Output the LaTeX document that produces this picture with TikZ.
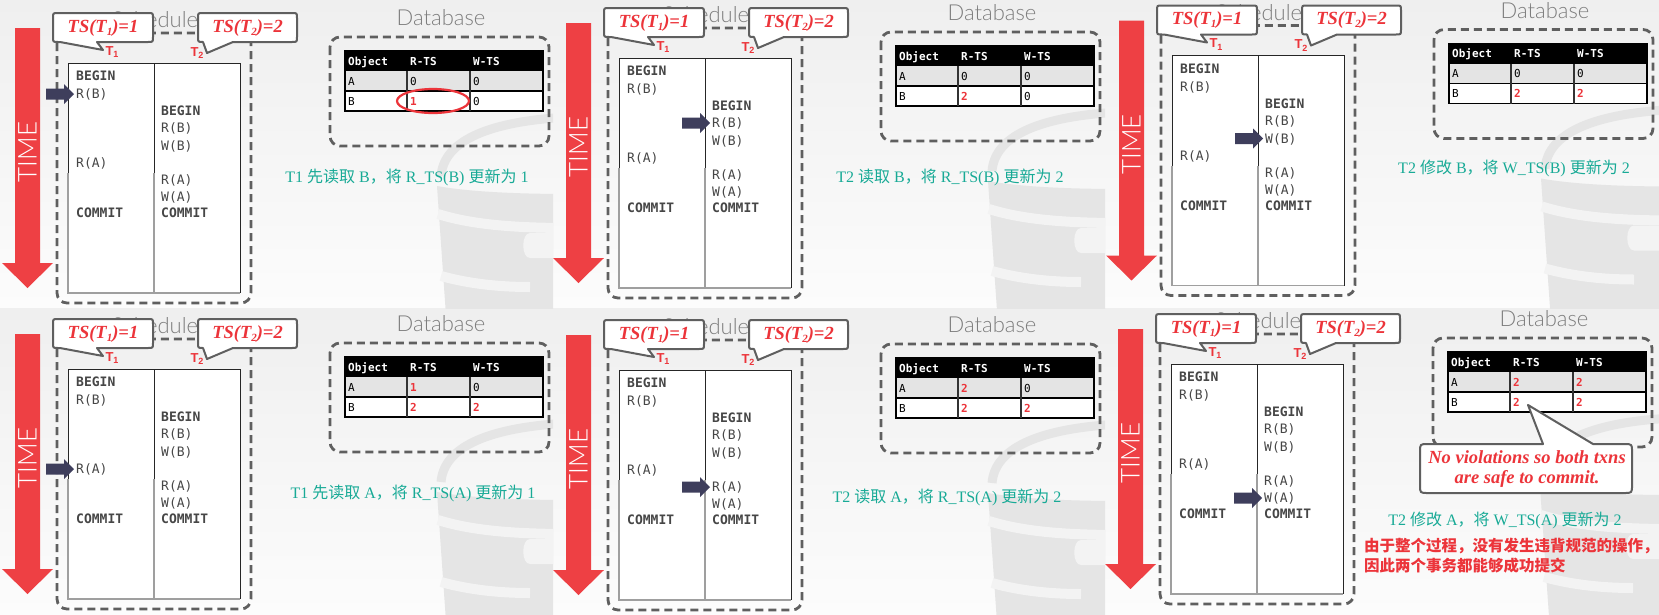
\documentclass[tikz,border=0pt]{standalone}
\usepackage{fontspec}
\setmainfont{Liberation Serif}
\newfontfamily\monof{DejaVu Sans Mono}
\newfontfamily\lser{Liberation Serif}
\newfontfamily\lsans{Liberation Sans}
\newfontfamily\thinf{Lato Light}
\newfontfamily\cjk{Noto Sans CJK SC}
\usetikzlibrary{calc}
\definecolor{tred}{RGB}{238,64,68}
\definecolor{lred}{RGB}{236,52,58}
\definecolor{navyc}{RGB}{62,62,92}
\definecolor{dgray}{RGB}{95,95,95}
\definecolor{ttlc}{RGB}{125,125,125}
\definecolor{codec}{RGB}{70,70,70}
\definecolor{teal2}{RGB}{24,170,150}
\definecolor{wm}{RGB}{229,229,229}
\definecolor{wmlight}{RGB}{243,243,243}
\definecolor{rowa}{RGB}{228,228,228}
\definecolor{bgtop}{RGB}{239,239,239}
\definecolor{bgbot}{RGB}{252,252,252}
\tikzset{
 code/.style={font=\monof\fontsize{13}{13}\selectfont, text=codec, inner sep=0pt, anchor=west, text height=9.5pt, text depth=0pt},
 codeb/.style={code, font=\monof\bfseries\fontsize{13}{13}\selectfont},
 dbt/.style={font=\monof\fontsize{11}{11}\selectfont, inner sep=0pt, anchor=west, text height=8pt, text depth=0pt},
 dbh/.style={dbt, font=\monof\bfseries\fontsize{11}{11}\selectfont, text=white},
 ttl/.style={font=\thinf\fontsize{22}{22}\selectfont, text=ttlc, inner sep=0pt},
 timet/.style={font=\thinf\fontsize{26}{26}\selectfont, text=white, rotate=90, inner sep=0pt},
 tsl/.style={font=\lser\bfseries\itshape\fontsize{18.5}{18.5}\selectfont, text=lred, inner sep=0pt},
 tlab/.style={font=\lsans\bfseries\fontsize{13}{13}\selectfont, text=lred, inner sep=0pt},
 dashbox/.style={draw=dgray, line width=2.8pt, dash pattern=on 8pt off 5pt, rounded corners=10pt},
 cbox/.style={draw=dgray, line width=2pt, fill=white, line join=round},
 capt/.style={font=\fontsize{16}{16}\selectfont, text=teal2, inner sep=0pt},
 redtxt/.style={font=\cjk\bfseries\fontsize{15.5}{20}\selectfont, text=lred, inner sep=0pt, align=left, anchor=west},
 novt/.style={font=\lser\bfseries\itshape\fontsize{18.5}{20}\selectfont, text=lred, inner sep=0pt, align=center},
}
\newcommand\rv[1]{\textcolor{lred}{\bfseries #1}}
\newcommand\mycallout[8]{\draw[cbox] ({#1+5},#2) -- ({#3-5},#2) .. controls (#3,#2) .. (#3,{#2+5}) -- (#3,{#4-5}) .. controls (#3,#4) .. ({#3-5},#4) -- (#6,#4) -- (#7,#8) -- (#5,#4) -- ({#1+5},#4) .. controls (#1,#4) .. (#1,{#4-5}) -- (#1,{#2+5}) .. controls (#1,#2) .. ({#1+5},#2) -- cycle;}
\newcommand\mycalloutT[8]{\draw[cbox] ({#1+8},#2) -- (#5,#2) -- (#7,#8) -- (#6,#2) -- ({#3-8},#2) .. controls (#3,#2) .. (#3,{#2+8}) -- (#3,{#4-8}) .. controls (#3,#4) .. ({#3-8},#4) -- ({#1+8},#4) .. controls (#1,#4) .. (#1,{#4-8}) -- (#1,{#2+8}) .. controls (#1,#2) .. ({#1+8},#2) -- cycle;}
\newcommand\navarrow[1]{\fill[navyc] ($(#1.west)+(-2,0)$) -- ++(-10,-10) -- ++(0,4.5) -- ++(-18,0) -- ++(0,11) -- ++(18,0) -- ++(0,4.5) -- cycle;}
\newcommand\panelbase[9]{%
\begin{scope}
 \clip (#8) rectangle (#9);
 \begin{scope}[shift={(#1,#2)}]
  \fill[wm] (437,186) .. controls (470,192) and (520,194) .. (570,194) -- (570,330) -- (447,330) -- cycle;
  \draw[wmlight, line width=10pt] (438,214) .. controls (470,224) and (510,228) .. (570,228);
  \fill[wmlight] (530,233) .. controls (521,233) and (521,258) .. (530,258) -- (570,258) -- (570,233) -- cycle;
  \draw[wmlight, line width=10pt] (441,276) .. controls (470,284) and (500,287) .. (530,287);
  \draw[wm, line width=9pt] (441,176) .. controls (444,140) and (490,121) .. (570,117);
 \end{scope}
\end{scope}
\begin{scope}[shift={(#1,#2)}]
  \fill[tred] (15,28) -- (40,28) -- (40,263) -- (53,263) -- (27.5,288) -- (2,263) -- (15,263) -- cycle;
  \node[timet] (#3time) at (27.5,152) {TIME};
  \node[ttl] (#3sch) at (155,20) {Schedule};
  \node[ttl] (#3db) at (441,18) {Database};
  \draw[dashbox] (57,33) rectangle (251,303);
  \fill[white] (68,63) rectangle (240,293);
  \draw[black!85, line width=1pt] (68,173) -- (68,63) -- (240,63) -- (240,293);
  \draw[black!85, line width=1pt] (154,63) -- (154,173);
  \draw[gray!75, line width=1.5pt] (68,173) -- (68,293) -- (240,293);
  \draw[gray!75, line width=1.5pt] (154,173) -- (154,293);
  \mycallout{53}{13}{153}{42}{60}{97}{103}{50}
  \mycallout{198}{13}{297}{42}{203}{233}{207}{53}
  \node[tsl] (#3ts1) at (103,28) {TS(T\raisebox{-0.3ex}{\fontsize{11}{11}\selectfont 1})=1};
  \node[tsl] (#3ts2) at (247.5,28) {TS(T\raisebox{-0.3ex}{\fontsize{11}{11}\selectfont 2})=2};
  \node[tlab] (#3t1) at (112,52) {T\raisebox{-0.4ex}{\fontsize{9}{9}\selectfont 1}};
  \node[tlab] (#3t2) at (197,53) {T\raisebox{-0.4ex}{\fontsize{9}{9}\selectfont 2}};
  \node[codeb] (#3a1) at (76,76) {BEGIN};
  \node[code] (#3a2) at (76,94) {R(B)};
  \node[code] (#3a3) at (76,163) {R(A)};
  \node[codeb] (#3a4) at (76,213) {COMMIT};
  \node[codeb] (#3b1) at (161,111) {BEGIN};
  \node[code] (#3b2) at (161,128) {R(B)};
  \node[code] (#3b3) at (161,146) {W(B)};
  \node[code] (#3b4) at (161,180) {R(A)};
  \node[code] (#3b5) at (161,197) {W(A)};
  \node[codeb] (#3b6) at (161,213) {COMMIT};
  \draw[dashbox] (330,37) rectangle (549,146);
  \fill[black] (345,51) rectangle (543,71);
  \fill[rowa] (345,71) rectangle (543,91);
  \fill[white] (345,91) rectangle (543,111);
  \draw[black, line width=1.2pt] (345,51) rectangle (543,111);
  \draw[black, line width=1.2pt] (345,91) -- (543,91);
  \draw[black!80, line width=1.5pt] (407,71) -- (407,111) (470,71) -- (470,111);
  \node[dbh] (#3h1) at (348,61) {Object};
  \node[dbh] (#3h2) at (410,61) {R-TS};
  \node[dbh] (#3h3) at (473,61) {W-TS};
  \node[dbt] (#3ra) at (348,81) {A};
  \node[dbt] (#3rb) at (348,101) {B};
  \node[dbt] (#3v1) at (410,81) {#4};
  \node[dbt] (#3v2) at (473,81) {#5};
  \node[dbt] (#3v3) at (410,101) {#6};
  \node[dbt] (#3v4) at (473,101) {#7};
\end{scope}}
\begin{document}
\begin{tikzpicture}[x=1pt,y=-1pt]
\useasboundingbox (0,0) rectangle (1659,614);
\shade[top color=bgtop, bottom color=bgbot] (0,0) rectangle (1659,308);
\shade[top color=bgtop, bottom color=bgbot] (0,308) rectangle (1659,614);
\panelbase{0}{0}{p1}{0}{0}{\rv1}{0}{0,0}{553,308}
\panelbase{551}{-5}{p2}{0}{0}{\rv2}{0}{553,0}{1105,308}
\panelbase{1104}{-7.5}{p3}{0}{0}{\rv2}{\rv2}{1105,0}{1659,308}
\panelbase{0}{306}{p4}{\rv1}{0}{\rv2}{\rv2}{0,308}{553,614}
\panelbase{551}{307}{p5}{\rv2}{0}{\rv2}{\rv2}{553,308}{1105,614}
\panelbase{1103}{301}{p6}{\rv2}{\rv2}{\rv2}{\rv2}{1105,308}{1659,614}
\navarrow{p1a2}
\navarrow{p2b2}
\navarrow{p3b3}
\navarrow{p4a3}
\navarrow{p5b4}
\navarrow{p6b5}
\draw[lred, line width=2.2pt] (433,101) ellipse [x radius=36pt, y radius=12pt];
\node[capt] (cap1) at (407,177) {{\lser T1~}{\cjk 先读取}{\lser~B}{\cjk ，将}{\lser~R\_TS(B)~}{\cjk 更新为}{\lser~1}};
\node[capt] (cap2) at (950,177) {{\lser T2~}{\cjk 读取}{\lser~B}{\cjk ，将}{\lser~R\_TS(B)~}{\cjk 更新为}{\lser~2}};
\node[capt] (cap3) at (1514,168) {{\lser T2~}{\cjk 修改}{\lser~B}{\cjk ，将}{\lser~W\_TS(B)~}{\cjk 更新为}{\lser~2}};
\node[capt] (cap4) at (413,493) {{\lser T1~}{\cjk 先读取}{\lser~A}{\cjk ，将}{\lser~R\_TS(A)~}{\cjk 更新为}{\lser~1}};
\node[capt] (cap5) at (947,497) {{\lser T2~}{\cjk 读取}{\lser~A}{\cjk ，将}{\lser~R\_TS(A)~}{\cjk 更新为}{\lser~2}};
\node[capt] (cap6) at (1505,520) {{\lser T2~}{\cjk 修改}{\lser~A}{\cjk ，将}{\lser~W\_TS(A)~}{\cjk 更新为}{\lser~2}};
\mycalloutT{1420}{444}{1632}{493}{1543}{1593}{1528}{405}
\node[novt] (nov) at (1527,469.5) {No violations so both txns\\are safe to commit.};
\node[redtxt] (concl) at (1364,556) {由于整个过程，没有发生违背规范的操作，\\因此两个事务都能够成功提交};
\end{tikzpicture}
\end{document}
